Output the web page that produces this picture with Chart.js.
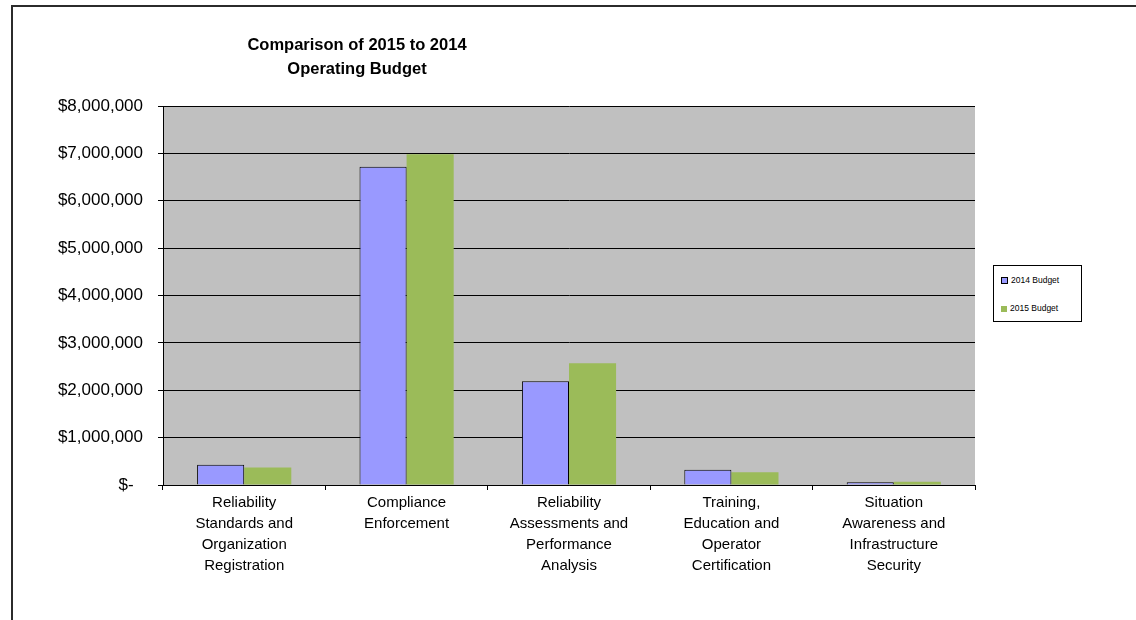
<!DOCTYPE html>
<html>
<head>
<meta charset="utf-8">
<script src="https://cdn.jsdelivr.net/npm/chart.js@4.4.1/dist/chart.umd.min.js"></script>
<style>
  html, body { margin: 0; padding: 0; background: #fff; }
  #wrap { position: relative; width: 1136px; height: 620px; overflow: hidden; font-family: Arial, "Liberation Sans", sans-serif; }
  #frame { position: absolute; left: 11px; top: 5px; width: 1200px; height: 700px; border-left: 2px solid #2b2b2b; border-top: 2px solid #2b2b2b; }
  #title { position: absolute; left: 207px; width: 300px; top: 32px; text-align: center; font-weight: bold; font-size: 16.5px; line-height: 24px; color: #000; }
  #legend { position: absolute; left: 993px; top: 265px; width: 87px; height: 55px; border: 1px solid #000; background: #fff; font-size: 8.5px; color: #000; }
  .item { position: absolute; left: 7px; white-space: nowrap; }
  .sw { display: inline-block; width: 6px; height: 6px; margin-right: 3px; vertical-align: -1px; }
  #c { position: absolute; left: 0; top: 0; }
</style>
</head>
<body>
<div id="wrap">
  <div id="frame"></div>
  <canvas id="c" width="1136" height="620"></canvas>
  <div id="title">Comparison of 2015 to 2014<br>Operating Budget</div>
  <div id="legend">
    <div class="item" style="top:9px"><span class="sw" style="background:#9999FF;border:1px solid #000;width:5px;height:5px"></span>2014 Budget</div>
    <div class="item" style="top:37px"><span class="sw" style="background:#9BBB59"></span>2015 Budget</div>
  </div>
</div>
<script>
// data
const categories = [
    ['Reliability', 'Standards and', 'Organization', 'Registration'],
    ['Compliance', 'Enforcement'],
    ['Reliability', 'Assessments and', 'Performance', 'Analysis'],
    ['Training,', 'Education and', 'Operator', 'Certification'],
    ['Situation', 'Awareness and', 'Infrastructure', 'Security']
];
const budget2014 = [430000, 6720000, 2190000, 320000, 60000];
const budget2015 = [370000, 6980000, 2570000, 270000, 70000];
const yTicks = [0, 1000000, 2000000, 3000000, 4000000, 5000000, 6000000, 7000000, 8000000];

// grey plot background
const plotBg = {
    id: 'plotBg',
    beforeDraw(chart) {
        const a = chart.chartArea;
        const ctx = chart.ctx;
        ctx.save();
        ctx.fillStyle = '#C0C0C0';
        ctx.fillRect(a.left, a.top, a.right - a.left, a.bottom - a.top);
        ctx.restore();
    }
};

new Chart(document.getElementById('c'), {
    type: 'bar',
    data: {
        labels: categories,
        datasets: [
            {
                label: '2014 Budget',
                data: budget2014,
                backgroundColor: '#9999FF',
                borderColor: '#000000',
                borderWidth: 1
            },
            {
                label: '2015 Budget',
                data: budget2015,
                backgroundColor: '#9BBB59',
                borderWidth: 0
            }
        ]
    },
    options: {
        responsive: false,
        animation: false,
        events: [],
        layout: { padding: { top: 106, right: 161, left: 0, bottom: 0 } },
        datasets: { bar: { categoryPercentage: 0.58, barPercentage: 1.0 } },
        scales: {
            x: {
                afterFit: s => { s.height = 135; },
                grid: { drawOnChartArea: false, drawTicks: true, tickLength: 5, color: '#000', lineWidth: 1 },
                border: { color: '#000', width: 1 },
                ticks: {
                    color: '#000',
                    padding: 2,
                    maxRotation: 0,
                    autoSkip: false,
                    font: { family: 'Arial, "Liberation Sans"', size: 15, lineHeight: 1.4 }
                }
            },
            y: {
                min: 0,
                max: 8000000,
                afterFit: s => { s.width = 163; },
                afterBuildTicks: s => { s.ticks = yTicks.map(v => ({ value: v })); },
                grid: { color: '#000', lineWidth: 1, tickLength: 5 },
                border: { color: '#000', width: 1 },
                ticks: {
                    color: '#000',
                    padding: 15,
                    font: { family: 'Arial, "Liberation Sans"', size: 17 },
                    callback: v => v === 0 ? '$-  ' : '$' + v.toLocaleString('en-US')
                }
            }
        },
        plugins: {
            legend: { display: false },
            title: { display: false },
            tooltip: { enabled: false }
        }
    },
    plugins: [plotBg]
});
</script>
</body>
</html>
